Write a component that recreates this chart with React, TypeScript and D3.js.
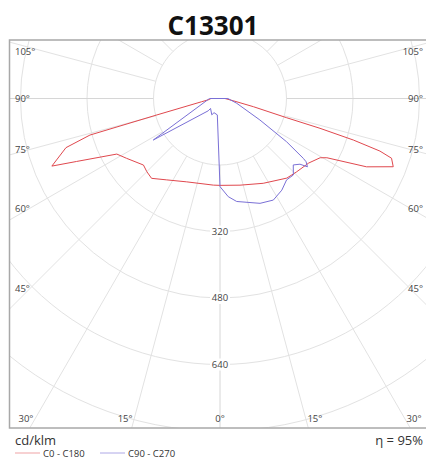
import React from "react";
import * as d3 from "d3";

// gamma angles (deg from nadir) and intensities in cd/klm
const c0Gamma = [0, 13, 27, 40, 46, 54, 59.4, 61, 65, 68.5, 70.8, 71.8, 72.7, 73.4, 73.9, 76.2, 80, 90];
const c0Values = [209, 214, 229, 250, 255, 264, 280, 294, 389, 448, 437, 405, 336, 251, 167, 83, 34, 12];

const c180Gamma = [0, 4.4, 21.8, 33.2, 40.6, 45, 49, 57.4, 61.7, 66.3, 68.1, 72.3, 74.3, 75.4, 80, 85, 90];
const c180Values = [209, 209, 216, 234, 253, 249, 244, 267, 282, 377, 436, 389, 325, 157, 45, 25, 22];

const c90Gamma = [0, 4.8, 9.2, 20.9, 27.7, 34, 39.3, 43.8, 47.8, 50.6, 52, 53.7, 54.3, 57, 61.7, 74, 90];
const c90Values = [212, 237, 251, 270, 276, 266, 253, 255, 238, 249, 267, 257, 247, 191, 109, 42, 19];

const c270Gamma = [0, 9.3, 22.9, 26.7, 43.5, 43.8, 58.1, 86, 90];
const c270Values = [212, 40, 37, 44, 33, 41, 189, 28, 25];

const ringValues = [160, 320, 480, 640, 800];
const ringLabels = [320, 480, 640];
const sideLabels = [105, 90, 75, 60, 45];
const bottomLabels = [30, 15, 0];
const spokeAngles = d3.range(0, 181, 15);

const W = 426;
const H = 458;
const CX = 220;
const CY = 98.5;
const FRAME = { x: 10, y: 40, w: 430, h: 388 };

const rad = (deg: number) => (deg * Math.PI) / 180;
const r = d3.scaleLinear().domain([0, 800]).range([0, 332.5]);

// right half drawn 90 -> 0, left half 0 -> 90
const halfCurve = (
  rightG: number[], rightV: number[], leftG: number[], leftV: number[]
): [number, number][] => {
  const right = rightG.map((g, i) => [Math.PI - rad(g), r(rightV[i])] as [number, number]).reverse();
  const left = leftG.map((g, i) => [Math.PI + rad(g), r(leftV[i])] as [number, number]);
  return [...right, ...left];
};

const radial = d3
  .lineRadial<[number, number]>()
  .angle((d) => d[0])
  .radius((d) => d[1])
  .curve(d3.curveLinearClosed);

const redPath = radial(halfCurve(c0Gamma, c0Values, c180Gamma, c180Values)) || "";
const bluePath = radial(halfCurve(c90Gamma, c90Values, c270Gamma, c270Values)) || "";

const RED = "#e0484e";
const BLUE = "#7a70d6";
const GRID = "#e2e2e2";
const TXT = "#444";

export default function App() {
  const font = "'Open Sans', 'DejaVu Sans', sans-serif";

  return (
    <svg
      width={W}
      height={H}
      style={{ position: "absolute", left: 0, top: 0, background: "#fff" }}
      fontFamily={font}
    >
      <defs>
        <clipPath id="frame">
          <rect x={FRAME.x} y={FRAME.y} width={FRAME.w} height={FRAME.h} />
        </clipPath>
      </defs>

      <text x={W / 2} y={35} textAnchor="middle" fontSize={26} fontWeight="bold" fill="#111">
        C13301
      </text>

      <g clipPath="url(#frame)">
        <g transform={`translate(${CX},${CY})`}>
          {ringValues.map((v) => (
            <circle key={v} r={r(v)} fill="none" stroke={GRID} strokeWidth={1} />
          ))}
          {spokeAngles.flatMap((a) =>
            [1, -1].map((s) => {
              if (s === -1 && (a === 0 || a === 180)) return null;
              const [x0, y0] = d3.pointRadial(Math.PI - s * rad(a), r(160));
              const [x1, y1] = d3.pointRadial(Math.PI - s * rad(a), r(1100));
              return (
                <line
                  key={`${a}-${s}`}
                  x1={x0}
                  y1={y0}
                  x2={x1}
                  y2={y1}
                  stroke={a === 0 || a === 90 ? "#d6d6d6" : GRID}
                  strokeWidth={1}
                />
              );
            })
          )}
          {ringLabels.map((v) => (
            <g key={v} transform={`translate(0,${r(v)})`}>
              <rect x={-10} y={-6} width={20} height={12} fill="#fff" />
              <text textAnchor="middle" dy="0.35em" fontSize={9.5} fill={TXT}>
                {v}
              </text>
            </g>
          ))}
          <path d={redPath} fill="none" stroke={RED} strokeWidth={1} strokeLinejoin="round" />
          <path d={bluePath} fill="none" stroke={BLUE} strokeWidth={1} strokeLinejoin="round" />
        </g>

        {sideLabels.map((g) => {
          const y = Math.max(CY + 190 / Math.tan(rad(g)), 52);
          return (
            <g key={g} fontSize={9.5} fill={TXT}>
              <text x={15} y={y} dy="0.35em">{`${g}°`}</text>
              <text x={423} y={y} dy="0.35em" textAnchor="end">{`${g}°`}</text>
            </g>
          );
        })}
        {bottomLabels.flatMap((g) =>
          (g === 0 ? [1] : [-1, 1]).map((s) => {
            const off = (419 - CY) * Math.tan(rad(g));
            const x = CX + s * (off + (g === 0 ? 0 : 9));
            return (
              <text key={`${g}-${s}`} x={x} y={419} dy="0.35em" textAnchor="middle" fontSize={9.5} fill={TXT}>
                {`${g}°`}
              </text>
            );
          })
        )}
      </g>

      <rect
        x={FRAME.x - 0.5}
        y={FRAME.y}
        width={FRAME.w}
        height={FRAME.h}
        fill="none"
        stroke="#a8a8a8"
        strokeWidth={1.5}
      />

      <text x={15} y={445} fontSize={13} fill="#333">cd/klm</text>
      <text x={423} y={445} fontSize={13} fill="#333" textAnchor="end">η = 95%</text>

      <line x1={15} x2={40} y1={453} y2={453} stroke={RED} strokeOpacity={0.5} />
      <text x={43} y={456.5} fontSize={9.5} fill="#333">C0 - C180</text>
      <line x1={100} x2={125} y1={453} y2={453} stroke={BLUE} strokeOpacity={0.6} />
      <text x={128} y={456.5} fontSize={9.5} fill="#333">C90 - C270</text>
    </svg>
  );
}
